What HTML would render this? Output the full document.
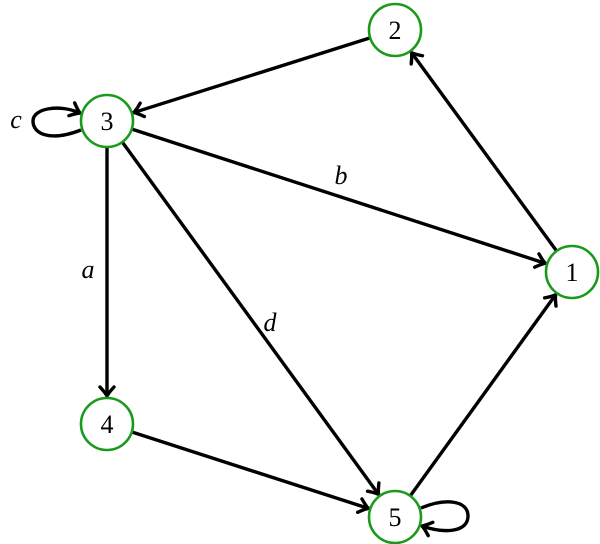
<!DOCTYPE html>
<html><head><meta charset="utf-8"><style>
html,body{margin:0;padding:0;background:#fff;width:600px;height:544px;overflow:hidden}
text{font-family:"Liberation Serif",serif;font-size:26px}
</style></head><body>
<svg id="s" width="600" height="544" xmlns="http://www.w3.org/2000/svg">
<defs>
<marker id="ar" markerUnits="userSpaceOnUse" markerWidth="20" markerHeight="20" refX="0" refY="0" viewBox="-12 -10 14 20" orient="auto">
<path d="M-9,-7 Q-3,-1.5 0,0 Q-3,1.5 -9,7" fill="none" stroke="#000" stroke-width="3.4" stroke-linecap="round"/>
</marker>
</defs>
<g id="edges" stroke="#000" stroke-width="3.4" fill="none"></g>
<path d="M81,130 C50,142 33,134 33,121 C33,108 60,104 80,113" stroke="#000" stroke-width="3.4" fill="none" marker-end="url(#ar)"/>
<path d="M421,508 C445,498 468,500 468,516 C468,532 445,534 422,526" stroke="#000" stroke-width="3.4" fill="none" marker-end="url(#ar)"/>
<g fill="#fff" stroke="#1a9a1a" stroke-width="2.6">
<circle cx="395" cy="30" r="26"/>
<circle cx="107" cy="121" r="26"/>
<circle cx="572" cy="272" r="26"/>
<circle cx="107" cy="424" r="26"/>
<circle cx="395" cy="517" r="26"/>
</g>
<g text-anchor="middle">
<text x="395" y="39">2</text>
<text x="107" y="130">3</text>
<text x="572" y="281">1</text>
<text x="107" y="433">4</text>
<text x="395" y="526">5</text>
<text x="16" y="128" font-style="italic">c</text>
<text x="341" y="184" font-style="italic">b</text>
<text x="88" y="278" font-style="italic">a</text>
<text x="270" y="331" font-style="italic">d</text>
</g>
</svg>
<script>
var N={1:[572,272],2:[395,30],3:[107,121],4:[107,424],5:[395,517]};
var E=[[2,3],[3,1],[3,4],[3,5],[4,5],[5,1],[1,2]];
var g=document.getElementById('edges');
E.forEach(function(e){var a=N[e[0]],b=N[e[1]];var dx=b[0]-a[0],dy=b[1]-a[1],L=Math.hypot(dx,dy);
var ux=dx/L,uy=dy/L;var x1=a[0]+ux*27,y1=a[1]+uy*27,x2=b[0]-ux*28,y2=b[1]-uy*28;
var l=document.createElementNS('http://www.w3.org/2000/svg','line');
l.setAttribute('x1',x1);l.setAttribute('y1',y1);l.setAttribute('x2',x2);l.setAttribute('y2',y2);
l.setAttribute('marker-end','url(#ar)');g.appendChild(l);});
</script>
</body></html>
